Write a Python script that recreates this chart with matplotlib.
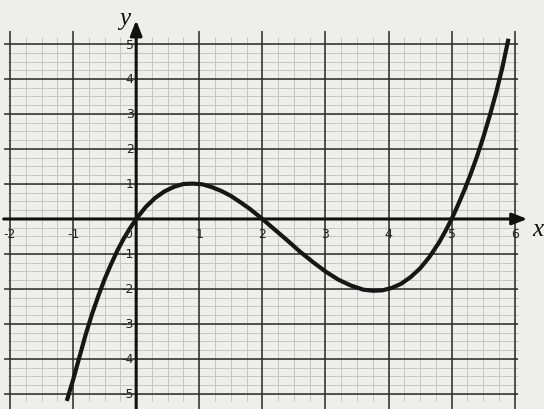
import matplotlib.pyplot as plt
import numpy as np

# points
curve_x = [-1.1, -1.0, -0.9, -0.8, -0.7, -0.6, -0.5, -0.4, -0.3, -0.2, -0.1, 0.0,
           0.15, 0.3, 0.45, 0.6, 0.75, 0.9, 1.05, 1.2, 1.35, 1.5, 1.65, 1.8, 2.0,
           2.2, 2.4, 2.6, 2.8, 3.0, 3.2, 3.4, 3.6, 3.75, 3.9, 4.05, 4.2, 4.35, 4.5,
           4.65, 4.8, 4.9, 5.0, 5.1, 5.2, 5.3, 5.4, 5.5, 5.6, 5.7, 5.8, 5.9]
curve_y = [-5.2, -4.6, -3.95, -3.3, -2.72, -2.2, -1.72, -1.3, -0.91, -0.57, -0.27, 0.0,
           0.34, 0.6, 0.79, 0.92, 1.0, 1.01, 0.99, 0.91, 0.8, 0.66, 0.48, 0.29, 0.0,
           -0.31, -0.62, -0.94, -1.23, -1.5, -1.73, -1.9, -2.02, -2.05, -2.04, -1.97,
           -1.85, -1.66, -1.41, -1.08, -0.67, -0.35, 0.0, 0.4, 0.82, 1.28, 1.78, 2.33,
           2.93, 3.58, 4.3, 5.15]

x_ticks = [-2, -1, 0, 1, 2, 3, 4, 5, 6]
y_ticks = [-5, -4, -3, -2, -1, 1, 2, 3, 4, 5]

paper = '#eeeeec'
fig = plt.figure(figsize=(5.44, 4.10), dpi=100, facecolor=paper)
ax = fig.add_axes([0, 0, 1, 1])
ax.set_facecolor(paper)
ax.set_xlim(-2.158, 6.463)
ax.set_ylim(-5.43, 6.286)
ax.axis('off')

# fine grid
minor_x = np.arange(-2, 6.01, 0.25)
minor_y = np.arange(-5, 5.01, 0.25)
ax.vlines(minor_x, -5.2, 5.2, color='#c4c4c2', lw=0.7, zorder=1)
ax.hlines(minor_y, -2.05, 6.05, color='#c4c4c2', lw=0.7, zorder=1)

# unit grid
ax.vlines(x_ticks, -5.43, 5.37, color='#2b2b2b', lw=1.1, zorder=2)
ax.hlines(y_ticks, -2.1, 6.05, color='#2b2b2b', lw=1.1, zorder=2)

# axes with arrows
ax.annotate('', xy=(6.2, 0), xytext=(-2.1, 0),
            arrowprops=dict(arrowstyle='-|>,head_length=0.9,head_width=0.35',
                            color='#111111', lw=2.2, shrinkA=0, shrinkB=0), zorder=3)
ax.annotate('', xy=(0, 5.68), xytext=(0, -5.43),
            arrowprops=dict(arrowstyle='-|>,head_length=0.9,head_width=0.35',
                            color='#111111', lw=2.2, shrinkA=0, shrinkB=0), zorder=3)

ax.plot(curve_x, curve_y, color='#161616', lw=3.0, solid_capstyle='butt',
        solid_joinstyle='round', zorder=4)

for t in x_ticks:
    dx = -0.13 if t == 0 else 0
    ax.text(t + dx, -0.42, str(t), ha='center', va='center', fontsize=9,
            color='#222222', zorder=5)
for t in y_ticks:
    ax.text(-0.04, t, str(t), ha='right', va='center', fontsize=9,
            color='#222222', zorder=5)

ax.text(-0.18, 5.75, 'y', fontsize=18, style='italic', family='Liberation Serif',
        ha='center', va='center', color='#111111')
ax.text(6.36, -0.28, 'x', fontsize=18, style='italic', family='Liberation Serif',
        ha='center', va='center', color='#111111')

plt.savefig('out.png', dpi=100, facecolor=paper)
